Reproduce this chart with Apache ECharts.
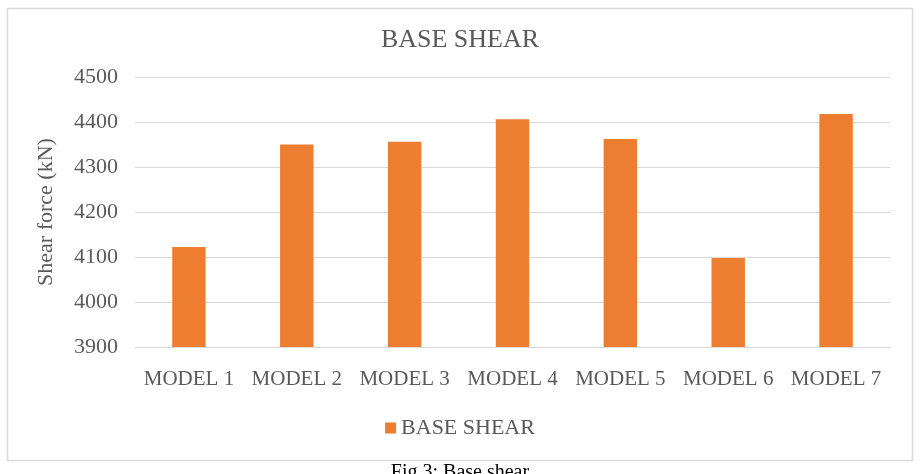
<!DOCTYPE html>
<html>
<head>
<meta charset="utf-8">
<script src="https://cdn.jsdelivr.net/npm/echarts@6/dist/echarts.min.js"></script>
<style>
  html, body { margin: 0; padding: 0; background: #fff; }
  #chart { width: 920px; height: 474px; }
</style>
</head>
<body>
<div id="chart"></div>
<script>
const categories = ['MODEL 1', 'MODEL 2', 'MODEL 3', 'MODEL 4', 'MODEL 5', 'MODEL 6', 'MODEL 7']
const baseShear = [4122, 4350, 4356, 4406, 4362, 4098, 4418]

const textColor = '#595959'
const fontFamily = '"Liberation Serif", "DejaVu Serif", serif'

const chart = echarts.init(document.getElementById('chart'))

chart.setOption({
  animation: false,
  backgroundColor: '#fff',
  textStyle: { fontFamily },
  title: {
    text: 'BASE SHEAR',
    left: 'center',
    top: 22,
    textStyle: { color: textColor, fontSize: 26, fontWeight: 'normal', fontFamily }
  },
  legend: {
    bottom: 30,
    left: 'center',
    itemWidth: 11,
    itemHeight: 11,
    itemGap: 6,
    icon: 'rect',
    textStyle: { color: textColor, fontSize: 22, fontFamily }
  },
  grid: { left: 135, right: 30, top: 77, bottom: 127 },
  xAxis: {
    type: 'category',
    data: categories,
    axisLine: { lineStyle: { color: '#d9d9d9' } },
    axisTick: { show: false },
    axisLabel: { color: textColor, fontSize: 21, margin: 22, interval: 0, fontFamily }
  },
  yAxis: {
    type: 'value',
    min: 3900,
    max: 4500,
    interval: 100,
    name: 'Shear force (kN)',
    nameLocation: 'middle',
    nameGap: 78,
    nameTextStyle: { color: textColor, fontSize: 22, fontFamily },
    axisLine: { show: false },
    axisTick: { show: false },
    axisLabel: { color: textColor, fontSize: 22, margin: 17, fontFamily, formatter: (v) => String(v) },
    splitLine: { lineStyle: { color: '#d9d9d9', width: 1 } }
  },
  series: [{
    name: 'BASE SHEAR',
    type: 'bar',
    data: baseShear,
    barWidth: '31%',
    itemStyle: { color: '#ed7d31' }
  }],
  graphic: [
    {
      type: 'rect',
      silent: true,
      shape: { x: 7.5, y: 8.5, width: 905, height: 452 },
      style: { fill: 'none', stroke: '#d9d9d9', lineWidth: 1.5 }
    },
    {
      type: 'text',
      left: 'center',
      top: 463,
      style: { text: 'Fig.3: Base shear', fill: '#000', fontSize: 20, fontFamily }
    }
  ]
})
</script>
</body>
</html>
